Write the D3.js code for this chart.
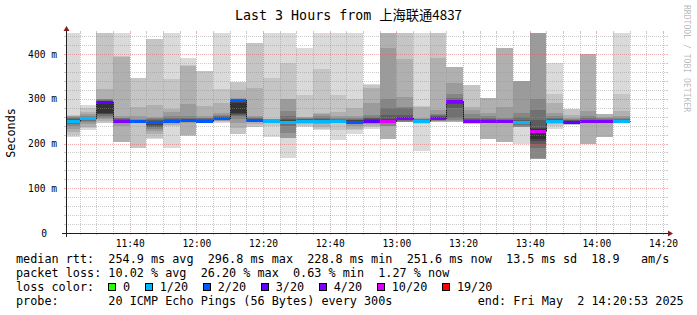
<!DOCTYPE html>
<html><head><meta charset="utf-8">
<script src="https://cdn.jsdelivr.net/npm/d3@7"></script>
<style>
html,body{margin:0;padding:0;background:#fff;}
svg{display:block;}
text{font-family:"DejaVu Sans Mono",monospace;white-space:pre;}
</style></head><body>
<svg id="c" width="697" height="315"></svg>
<script>
// ---------------- data ----------------
const titleText = "Last 3 Hours from ";
const titleCJK = "上海联通4837";
const yTitle = "Seconds";
const watermark = "RRDTOOL / TOBI OETIKER";

const barStarts = ["11:20","11:25","11:30","11:35","11:40","11:45","11:50","11:55",
  "12:00","12:05","12:10","12:15","12:20","12:25","12:30","12:35","12:40","12:45","12:50","12:55",
  "13:00","13:05","13:10","13:15","13:20","13:25","13:30","13:35","13:40","13:45","13:50","13:55",
  "14:00","14:05"];

// median rtt per 5-minute step (ms)
const medians = [250,257,293,250,251,249,251,252,251,257,297,253,250,249,251,250,250,249,251,251,
  257,250,258,296,251,251,250,248,229,250,249,250,250,250];

// lost pings (of 20) per step
const losses = [1,1,3,4,2,2,2,2,2,2,2,2,1,1,1,1,1,2,3,10,4,1,4,4,4,4,4,1,10,1,3,4,4,1];

// sorted ping rtts per step (ms) used for the smoke
const pings = [
 [214,220,226,232,240,244,247,249,250,251,253,255,257,259,261,262,263,470],
 [230,234,238,244,247,250,252,254,255,257,258,259,260,262,265,270,280,286],
 [246,246,250,254,258,262,266,267,268,290,292,295,297,299,300,321,470,470],
 [204,204,204,240,245,247,248,249,250,251,252,254,256,258,262,394,395,470],
 [191,191,248,248,249,249,250,250,250,251,251,252,253,255,262,282,347,347],
 [211,212,222,228,232,236,238,242,246,249,251,252,254,256,260,286,433,433],
 [191,239,242,245,247,248,249,250,251,252,253,255,258,262,270,277,344,470],
 [217,217,218,246,247,248,249,250,251,252,253,255,258,262,288,373,375,392],
 [246,246,248,249,250,250,251,251,252,252,253,254,256,258,262,284,362,362],
 [246,248,250,251,252,253,254,255,256,257,258,259,261,264,268,291,322,470],
 [221,221,235,245,255,262,264,266,268,290,293,295,296,298,302,320,338,338],
 [238,238,244,247,248,249,250,251,252,253,254,255,257,259,262,324,425,425],
 [215,240,248,249,249,250,250,251,251,252,252,253,253,254,254,255,346,470],
 [168,213,213,213,223,240,245,248,249,250,252,255,262,273,299,300,381,470],
 [237,240,244,246,247,248,249,250,251,252,253,254,255,257,259,260,308,413],
 [230,232,238,244,246,248,249,250,251,252,253,255,258,262,266,269,366,470],
 [208,230,246,247,248,249,249,250,250,251,252,253,255,258,262,271,308,470],
 [222,230,232,240,245,247,248,249,250,251,252,253,255,258,262,280,299,470],
 [232,236,240,243,246,248,249,250,251,252,254,257,260,264,290,325,330,334],
 [211,211,211,239,239,247,248,249,250,252,255,263,280,299,413,470,470,470],
 [247,247,247,248,249,250,252,254,255,258,260,263,279,281,305,390,470,470],
 [183,244,246,248,249,250,250,251,251,252,252,253,254,255,256,282,283,470],
 [249,249,249,250,251,252,253,254,255,257,259,261,263,265,276,392,470,470],
 [249,249,249,250,252,258,280,288,292,294,296,298,302,310,336,371,371,371],
 [244,244,245,246,247,248,249,250,251,252,253,255,258,266,275,281,331,331],
 [210,210,210,246,247,248,249,250,251,252,253,254,256,262,269,301,301,301],
 [204,204,204,245,247,248,249,250,250,251,252,253,255,258,281,414,414,414],
 [200,236,236,236,238,242,244,246,247,249,251,253,260,269,340,340,340,340],
 [165,165,165,165,168,190,200,205,210,232,235,253,276,299,470,470,470,470],
 [232,240,244,246,247,248,249,250,251,252,253,255,258,262,269,291,311,381],
 [241,241,243,245,246,247,248,249,249,250,251,252,253,254,256,264,278,278],
 [199,199,199,246,247,248,249,250,250,251,252,253,256,262,273,399,399,399],
 [215,215,215,246,247,248,249,250,250,251,252,253,255,258,260,266,266,266],
 [246,246,247,248,249,249,250,250,251,251,252,253,255,258,262,273,311,470]
];

const xTickLabels = ["11:40","12:00","12:20","12:40","13:00","13:20","13:40","14:00","14:20"];
const yTickValues = [0,100,200,300,400];

const lossThresholds = [0,1,2,3,4,10,19];
const lossLabels = ["0","1/20","2/20","3/20","4/20","10/20","19/20"];
const lossColors = ["#26ff00","#00b8ff","#0059ff","#5e00ff","#7e00ff","#dd00ff","#ff0000"];

const legendLines = [
 "median rtt:  254.9 ms avg  296.8 ms max  228.8 ms min  251.6 ms now  13.5 ms sd  18.9   am/s",
 "packet loss: 10.02 % avg  26.20 % max  0.63 % min  1.27 % now",
 "loss color:",
 "probe:       20 ICMP Echo Pings (56 Bytes) every 300s"
];
const endText = "end: Fri May  2 14:20:53 2025";

// ---------------- drawing ----------------
const svg = d3.select("#c");
const X0 = 66, X1 = 666, Y0 = 233, Yn = 33;
const day = hm => { const [h,m] = hm.split(":").map(Number); return new Date(2025,4,2,h,m,0); };
const t0 = new Date(2025,4,2,11,20,53), t1 = new Date(2025,4,2,14,20,53);
const x = d3.scaleTime().domain([t0,t1]).range([X0,X1]);
const y = d3.scaleLinear().domain([0,447]).range([Y0,Yn]);

svg.append("rect").attr("width",697).attr("height",315).attr("fill","#fff");
svg.append("defs").append("clipPath").attr("id","plot").append("rect")
  .attr("x",X0).attr("y",Yn).attr("width",X1-X0).attr("height",Y0-Yn);

const grayFor = i => { const c = Math.floor(190/9*(8-i))+50; return `rgb(${c},${c},${c})`; };
const lossColor = l => { let c = lossColors[0]; lossThresholds.forEach((t,i)=>{ if (l>=t) c = lossColors[i]; }); return c; };

const bars = barStarts.map((s,i)=>({t:day(s), t2:d3.timeMinute.offset(day(s),5), med:medians[i], loss:losses[i], p:pings[i]}));

const gData = svg.append("g").attr("clip-path","url(#plot)").attr("shape-rendering","crispEdges");
bars.forEach(b=>{
  const xa = Math.round(x(b.t)), xb = Math.round(x(b.t2));
  for (let i=0;i<9;i++){
    const lo = b.p[i], hi = b.p[17-i];
    const ya = Math.round(y(hi)), yb = Math.round(y(lo));
    if (yb-ya <= 0) continue;
    gData.append("rect").attr("x",xa).attr("y",ya).attr("width",xb-xa).attr("height",yb-ya).attr("fill",grayFor(i));
  }
});
// median step line
const last = bars[bars.length-1];
const pts = bars.map(b=>[Math.round(x(b.t))+0.5, Math.round(y(b.med))+0.5]).concat([[Math.round(x(last.t2))+0.5, Math.round(y(last.med))+0.5]]);
gData.append("path").attr("d", d3.line().curve(d3.curveStepAfter)(pts))
  .attr("fill","none").attr("stroke","#202020").attr("stroke-width",1);
// loss coloured median marks
bars.forEach(b=>{
  const xa = Math.round(x(b.t)), xb = Math.round(x(b.t2));
  gData.append("rect").attr("x",xa).attr("y",Math.round(y(b.med))-1).attr("width",xb-xa).attr("height",3).attr("fill",lossColor(b.loss));
});

// grid (drawn over data, as rrdtool does)
const GRID = "rgba(150,150,150,0.5)", MGRID = "rgba(222,79,79,0.45)";
const gGrid = svg.append("g").attr("shape-rendering","crispEdges").attr("stroke-width",1);
const hline = (v,col)=>{
  const yy = Math.round(y(v))+0.5;
  gGrid.append("line").attr("x1",X0).attr("x2",X1).attr("y1",yy).attr("y2",yy).attr("stroke",col).attr("stroke-dasharray","1,1");
  gGrid.append("line").attr("x1",X0-2).attr("x2",X0).attr("y1",yy).attr("y2",yy).attr("stroke",col);
  gGrid.append("line").attr("x1",X1).attr("x2",X1+2).attr("y1",yy).attr("y2",yy).attr("stroke",col);
};
const vline = (t,col)=>{
  const xx = Math.round(x(t))+0.5;
  gGrid.append("line").attr("x1",xx).attr("x2",xx).attr("y1",Yn).attr("y2",Y0).attr("stroke",col).attr("stroke-dasharray","1,1");
  gGrid.append("line").attr("x1",xx).attr("x2",xx).attr("y1",Y0).attr("y2",Y0+2).attr("stroke",col);
  gGrid.append("line").attr("x1",xx).attr("x2",xx).attr("y1",Yn-2).attr("y2",Yn).attr("stroke",col);
};
d3.range(20,447,20).forEach(v=>{ if (v%100!==0) hline(v,GRID); });
d3.range(100,447,100).forEach(v=>hline(v,MGRID));
d3.timeMinute.every(5).range(t0,t1).forEach(t=>{ if (t.getMinutes()%20!==0) vline(t,GRID); });
d3.timeMinute.every(20).range(t0,t1).forEach(t=>vline(t,MGRID));

// axes lines + arrows
const gAx = svg.append("g").attr("shape-rendering","crispEdges");
gAx.append("line").attr("x1",X0-4).attr("x2",X1+4).attr("y1",Y0+0.5).attr("y2",Y0+0.5).attr("stroke","#1f1f1f");
gAx.append("line").attr("x1",X0+0.5).attr("x2",X0+0.5).attr("y1",Y0+4).attr("y2",Yn-4).attr("stroke","#1f1f1f");
svg.append("polygon").attr("points",[[X1+2,Y0-3+0.5],[X1+2,Y0+3+0.5],[X1+7,Y0+0.5]].join(" ")).attr("fill","#801f1f");
svg.append("polygon").attr("points",[[X0-3+0.5,Yn-2],[X0+3+0.5,Yn-2],[X0+0.5,Yn-7]].join(" ")).attr("fill","#801f1f");

// tick labels via d3 axes
const xAxis = d3.axisBottom(x).tickValues(xTickLabels.map(day)).tickFormat(d3.timeFormat("%H:%M")).tickSize(0);
const gx = svg.append("g").attr("transform",`translate(0,${Y0})`).call(xAxis);
gx.select(".domain").remove();
gx.selectAll("text").attr("y",14).attr("dy",null).attr("fill","#000")
  .style("font-family","'DejaVu Sans Mono'").style("font-size","9.6px");

const yAxis = d3.axisLeft(y).tickValues(yTickValues).tickFormat(d=> d===0 ? "0" : d+" m").tickSize(0);
const gy = svg.append("g").attr("transform",`translate(${X0},0)`).call(yAxis);
gy.select(".domain").remove();
gy.selectAll("text").attr("x",d=> d===0 ? -19 : -9).attr("fill","#000")
  .style("font-family","'DejaVu Sans Mono'").style("font-size","9.6px");

// title
const tt = svg.append("text").attr("x",348.5).attr("y",19.5).attr("text-anchor","middle").style("font-size","13.3px").attr("fill","#000");
tt.append("tspan").text(titleText);
tt.append("tspan").style("font-family","'Noto Sans CJK SC'").text(titleCJK);

// vertical unit label
svg.append("text").attr("transform","translate(15,133) rotate(-90)").attr("text-anchor","middle")
  .style("font-size","11.8px").attr("fill","#000").text(yTitle);

// watermark
svg.append("text").attr("transform","translate(684,5) rotate(90)").attr("text-anchor","start")
  .style("font-size","8.1px").attr("fill","rgba(0,0,0,0.3)").text(watermark);

// legend
const CW = 7.104, LX = 16, FS = "11.8px";
const rowsY = [263,277,291,305];
legendLines.forEach((s,i)=>{
  svg.append("text").attr("x",LX).attr("y",rowsY[i]).style("font-size",FS).attr("fill","#000").text(s);
});
svg.append("text").attr("x",LX+65*CW).attr("y",rowsY[3]).style("font-size",FS).attr("fill","#000").text(endText);
let lx = 123;
lossLabels.forEach((lab,i)=>{
  svg.append("rect").attr("x",Math.round(lx-14.6)+0.5).attr("y",283.5).attr("width",7).attr("height",7)
    .attr("fill",lossColors[i]).attr("stroke","#000").attr("stroke-width",1).attr("shape-rendering","crispEdges");
  svg.append("text").attr("x",lx).attr("y",rowsY[2]).style("font-size",FS).attr("fill","#000").text(lab);
  lx += lab.length*CW + 29.6;
});
</script>
</body></html>
